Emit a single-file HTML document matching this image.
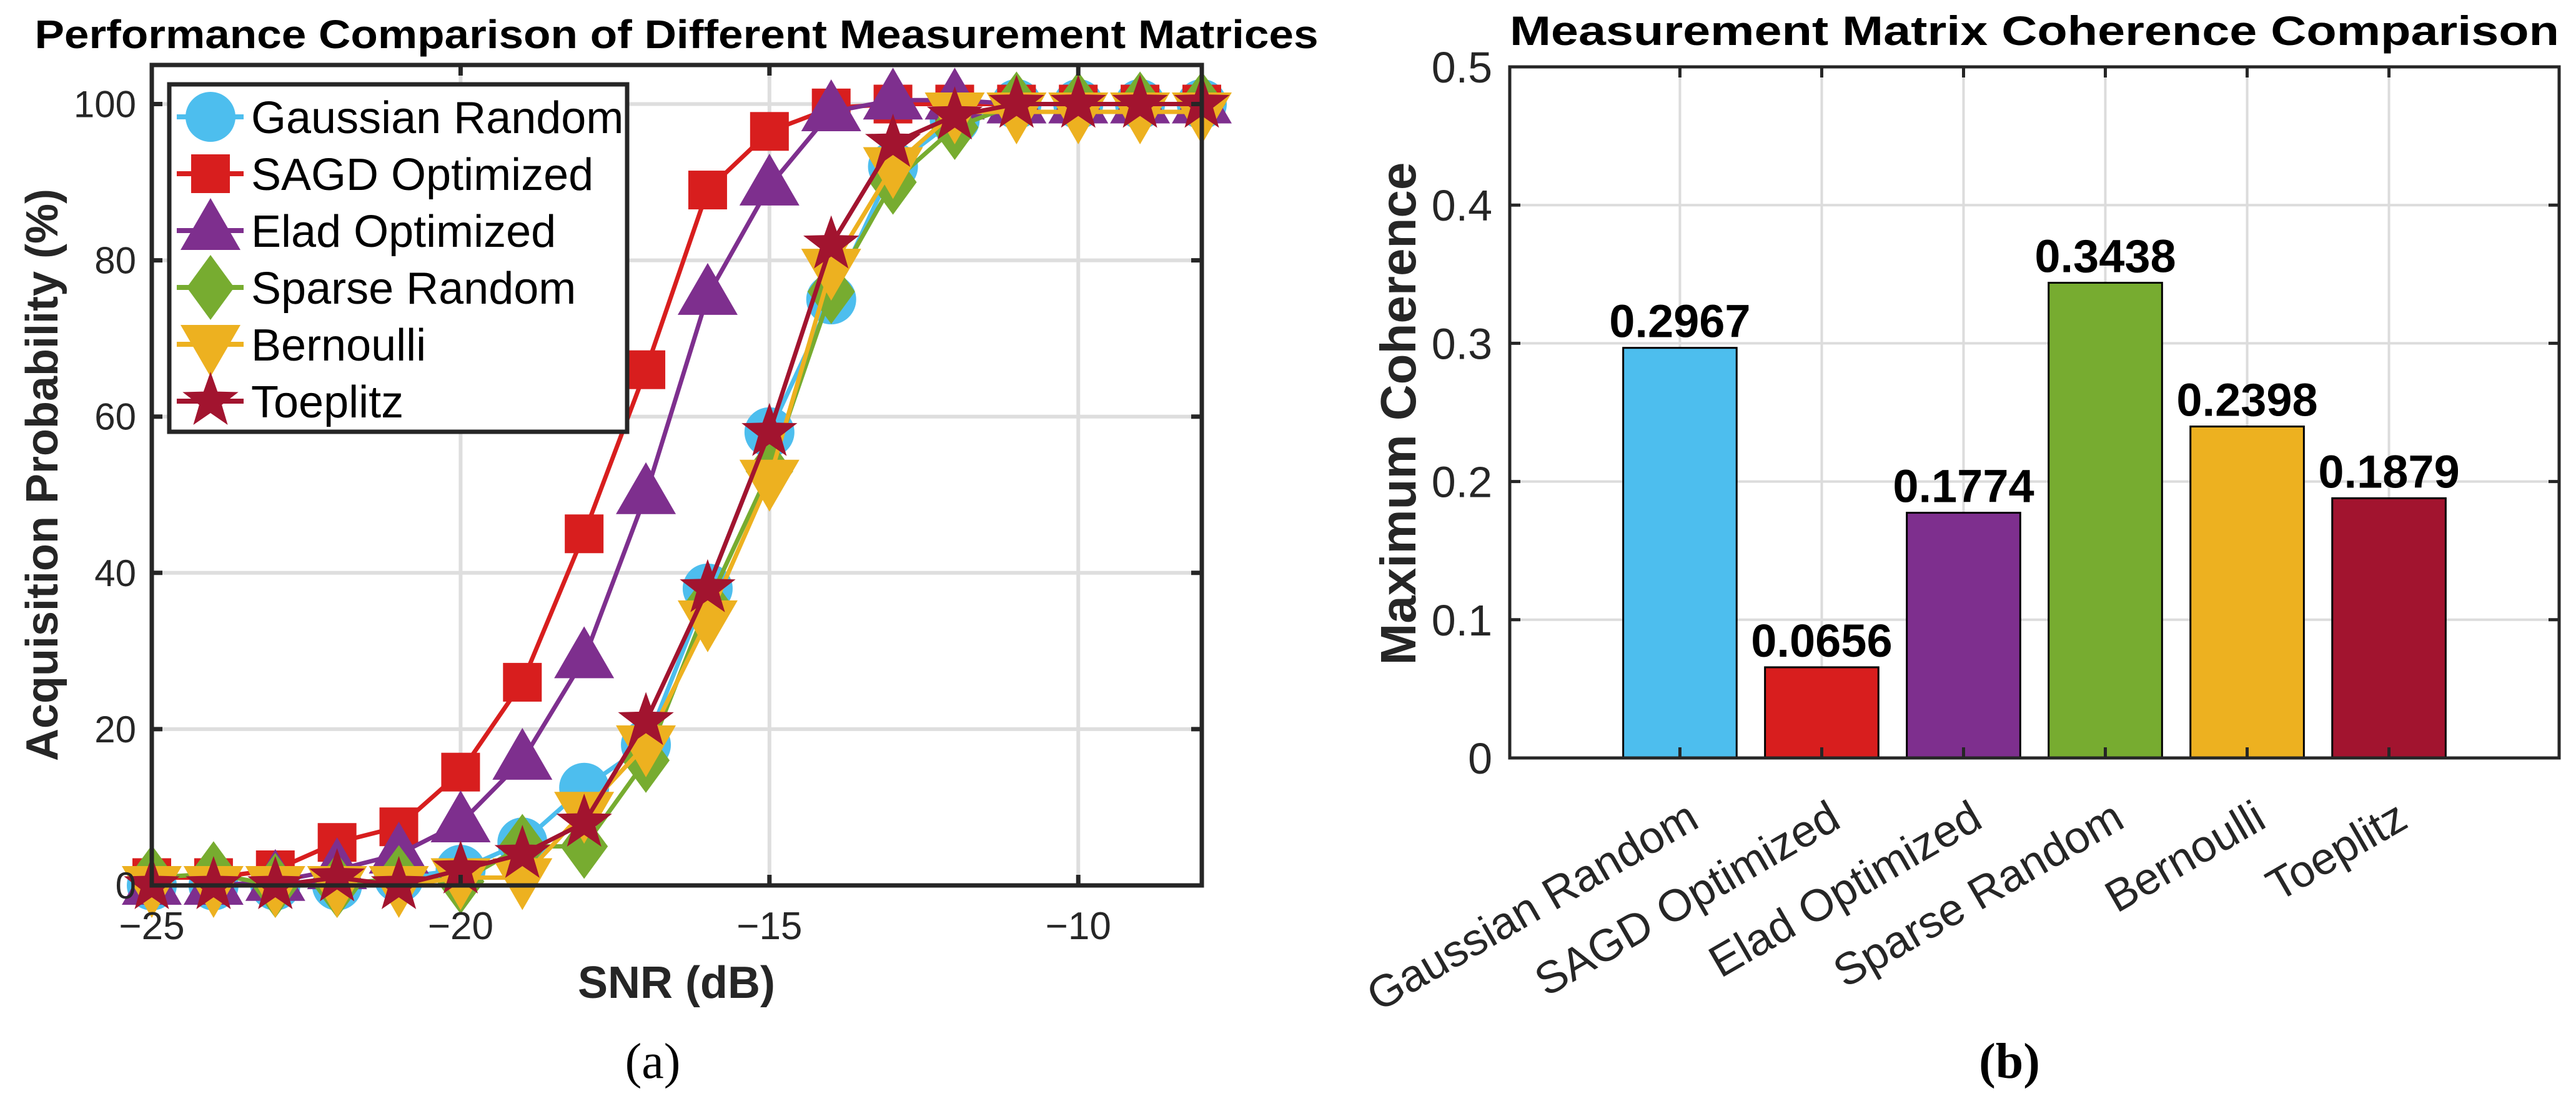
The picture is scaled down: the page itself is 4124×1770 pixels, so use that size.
<!DOCTYPE html>
<html><head><meta charset="utf-8"><style>
html,body{margin:0;padding:0;background:#fff;}
svg{display:block;}
text{font-family:"Liberation Sans",Arial,sans-serif;}
</style></head><body>
<svg id="fig" xmlns="http://www.w3.org/2000/svg" width="4124" height="1770" viewBox="0 0 4124 1770">
<rect x="0" y="0" width="4124" height="1770" fill="#fff"/>
<g id="left"></g>
<g id="right"></g>
</svg>
<script>
// ---- Left chart data ----
const snr = [-25,-24,-23,-22,-21,-20,-19,-18,-17,-16,-15,-14,-13,-12,-11,-10,-9,-8];
const gaussianVals  = [0,0,0,0,1,2,5.5,12.5,18,38,58,75,92,98,100,100,100,100];
const sagdVals      = [1,1,2,5.5,7.5,14.5,26,45,66,89,96.5,99.5,100,100,100,100,100,100];
const eladVals      = [0,0,0.5,2,4,8,16,29,50,75.5,89.5,99,100.5,100.5,100,100,100,100];
const sparseVals    = [1,1.5,0,0,1,0.5,5,5,16,36,53,76,90,97,100,100,100,100];
const bernoulliVals = [0,0,0,0,0,1,1,9.5,18,34,52,79,92,99,99,99,99,99];
const toeplitzVals  = [0,0,0,1,0,2,4,8,21,38,58,82,95,98.5,100,100,100,100];
const seriesNames = ["Gaussian Random","SAGD Optimized","Elad Optimized","Sparse Random","Bernoulli","Toeplitz"];
const xTicks = [-25,-20,-15,-10];
const yTicks = [0,20,40,60,80,100];
// ---- Right chart data ----
const categories = ["Gaussian Random","SAGD Optimized","Elad Optimized","Sparse Random","Bernoulli","Toeplitz"];
const coherence = [0.2967,0.0656,0.1774,0.3438,0.2398,0.1879];
const coherenceLabels = ["0.2967","0.0656","0.1774","0.3438","0.2398","0.1879"];
const cTicks = [0,0.1,0.2,0.3,0.4,0.5];
const cTickLabels = ["0","0.1","0.2","0.3","0.4","0.5"];

const NS="http://www.w3.org/2000/svg";
function mk(parent,tag,attrs,txt){const e=document.createElementNS(NS,tag);for(const k in attrs)e.setAttribute(k,attrs[k]);if(txt!==undefined)e.textContent=txt;parent.appendChild(e);return e;}

const colors=["#4DBEEE","#D81E1E","#7E2F8E","#77AC30","#EDB120","#A2142F"];
const markers=["circle","square","triangle","diamond","tridown","star"];
function marker(g,type,cx,cy,col){
  let e;
  if(type==="circle") e=mk(g,"circle",{cx:cx,cy:cy,r:40,fill:col});
  else if(type==="square") e=mk(g,"rect",{x:cx-31,y:cy-31,width:62,height:62,fill:col});
  else if(type==="triangle") e=mk(g,"polygon",{points:`${cx},${cy-52} ${cx+48},${cy+31} ${cx-48},${cy+31}`,fill:col});
  else if(type==="tridown") e=mk(g,"polygon",{points:`${cx},${cy+52} ${cx+48},${cy-31} ${cx-48},${cy-31}`,fill:col});
  else if(type==="diamond") e=mk(g,"polygon",{points:`${cx},${cy-52} ${cx+38},${cy} ${cx},${cy+52} ${cx-38},${cy}`,fill:col});
  else { let p=[];for(let i=0;i<10;i++){const r=i%2?19:47;const a=-Math.PI/2+i*Math.PI/5;p.push((cx+r*Math.cos(a)).toFixed(1)+","+(cy+r*Math.sin(a)).toFixed(1));}
    e=mk(g,"polygon",{points:p.join(" "),fill:col}); }
  return e;
}

// ===== LEFT =====
(function(){
  const g=document.getElementById('left');
  const L=243,R=1924,T=104,B=1417;
  const xs=v=>L+(v+25)/17*(R-L);
  const ys=v=>B-v/105*(B-T);
  const grid=mk(g,"g",{});
  
  
  xTicks.forEach(t=>{mk(grid,"line",{x1:xs(t),x2:xs(t),y1:T,y2:B,stroke:"#dedede","stroke-width":6});});
  yTicks.forEach(t=>{mk(grid,"line",{x1:L,x2:R,y1:ys(t),y2:ys(t),stroke:"#dedede","stroke-width":6});});
  const allVals=[gaussianVals,sagdVals,eladVals,sparseVals,bernoulliVals,toeplitzVals];
  allVals.forEach((vals,si)=>{
    const sg=mk(g,"g",{});
    
    
    mk(sg,"polyline",{points:snr.map((x,i)=>xs(x)+","+ys(vals[i])).join(" "),fill:"none",stroke:colors[si],"stroke-width":7,"stroke-linejoin":"round"});
    snr.forEach((x,i)=>{const m=marker(sg,markers[si],xs(x),ys(vals[i]),colors[si]);
      
      });
  });
  const ax=mk(g,"g",{});
  
  
  xTicks.forEach(t=>{mk(ax,"line",{x1:xs(t),x2:xs(t),y1:B,y2:B-17,stroke:"#262626","stroke-width":7});mk(ax,"line",{x1:xs(t),x2:xs(t),y1:T,y2:T+17,stroke:"#262626","stroke-width":7});
    const tl=mk(ax,"text",{x:xs(t),y:1503,"font-size":62,"text-anchor":"middle",fill:"#262626"},"\u2212"+Math.abs(t));
    
    });
  yTicks.forEach(t=>{mk(ax,"line",{x1:L,x2:L+17,y1:ys(t),y2:ys(t),stroke:"#262626","stroke-width":7});mk(ax,"line",{x1:R,x2:R-17,y1:ys(t),y2:ys(t),stroke:"#262626","stroke-width":7});
    const tl=mk(ax,"text",{x:218,y:ys(t)+21,"font-size":60,"text-anchor":"end",fill:"#262626"},String(t));
    
    });
  mk(ax,"rect",{x:L,y:T,width:R-L,height:B-T,fill:"none",stroke:"#262626","stroke-width":7});
  // legend
  const lg=mk(g,"g",{});
  
  
  mk(lg,"rect",{x:271,y:135,width:733,height:556,fill:"#fff",stroke:"#262626","stroke-width":7});
  seriesNames.forEach((n,i)=>{const cy=187+i*91;
    const le=mk(lg,"g",{});
    
    
    mk(le,"line",{x1:283,x2:390,y1:cy,y2:cy,stroke:colors[i],"stroke-width":8});
    marker(le,markers[i],337,cy,colors[i]);
    mk(le,"text",{x:402,y:cy+26,"font-size":72,fill:"#000"},n);});
  const t=mk(g,"text",{x:1083,y:77,"font-size":64,"font-weight":"bold","text-anchor":"middle",textLength:2055,lengthAdjust:"spacingAndGlyphs"},"Performance Comparison of Different Measurement Matrices");
  
  
  const xl=mk(g,"text",{x:1083,y:1597,"font-size":72,"font-weight":"bold","text-anchor":"middle",fill:"#262626"},"SNR (dB)");
  
  
  const yl=mk(g,"text",{x:0,y:0,"font-size":72,"font-weight":"bold","text-anchor":"middle",fill:"#262626",transform:"translate(92,760) rotate(-90)"},"Acquisition Probability (%)");
  
  
  const cap=mk(g,"text",{x:1045,y:1725,"font-size":80,"text-anchor":"middle",style:"font-family:'Liberation Serif',serif"},"(a)");
  
  
})();

// ===== RIGHT =====
(function(){
  const g=document.getElementById('right');
  const L=2417,R=4097,T=107,B=1213;
  const xs=c=>L+(c+0.2)/7.4*(R-L);
  const ys=v=>B-v/0.5*(B-T);
  const grid=mk(g,"g",{});
  
  
  categories.forEach((c,i)=>mk(grid,"line",{x1:xs(i+1),x2:xs(i+1),y1:T,y2:B,stroke:"#dcdcdc","stroke-width":4}));
  cTicks.forEach(t=>mk(grid,"line",{x1:L,x2:R,y1:ys(t),y2:ys(t),stroke:"#dcdcdc","stroke-width":4}));
  const bw=0.8/7.4*(R-L);
  coherence.forEach((v,i)=>{
    const b=mk(g,"rect",{x:xs(i+1)-bw/2,y:ys(v),width:bw,height:B-ys(v),fill:colors[i],stroke:"#000","stroke-width":3});
    
    
    const vl=mk(g,"text",{x:xs(i+1),y:ys(v)-17,"font-size":74,"font-weight":"bold","text-anchor":"middle",fill:"#000"},coherenceLabels[i]);
    
    
  });
  const ax=mk(g,"g",{});
  
  
  categories.forEach((c,i)=>{const x=xs(i+1);
    mk(ax,"line",{x1:x,x2:x,y1:B,y2:B-17,stroke:"#262626","stroke-width":5});
    mk(ax,"line",{x1:x,x2:x,y1:T,y2:T+17,stroke:"#262626","stroke-width":5});
    const tl=mk(ax,"text",{x:0,y:0,"font-size":72,"text-anchor":"end",fill:"#262626",transform:`translate(${x+34},${1322}) rotate(-30)`},c);
    
    });
  cTicks.forEach((t,i)=>{mk(ax,"line",{x1:L,x2:L+17,y1:ys(t),y2:ys(t),stroke:"#262626","stroke-width":5});mk(ax,"line",{x1:R,x2:R-17,y1:ys(t),y2:ys(t),stroke:"#262626","stroke-width":5});
    const tl=mk(ax,"text",{x:2389,y:ys(t)+25,"font-size":70,"text-anchor":"end",fill:"#262626"},cTickLabels[i]);
    
    });
  mk(ax,"rect",{x:L,y:T,width:R-L,height:B-T,fill:"none",stroke:"#262626","stroke-width":5});
  const t=mk(g,"text",{x:3257,y:72,"font-size":66,"font-weight":"bold","text-anchor":"middle",textLength:1680,lengthAdjust:"spacingAndGlyphs"},"Measurement Matrix Coherence Comparison");
  
  
  const yl=mk(g,"text",{x:0,y:0,"font-size":80,"font-weight":"bold","text-anchor":"middle",fill:"#262626",transform:"translate(2266,662) rotate(-90)"},"Maximum Coherence");
  
  
  const cap=mk(g,"text",{x:3217,y:1725,"font-size":80,"font-weight":"bold","text-anchor":"middle",style:"font-family:'Liberation Serif',serif"},"(b)");
  
  
})();
</script>
</body></html>
